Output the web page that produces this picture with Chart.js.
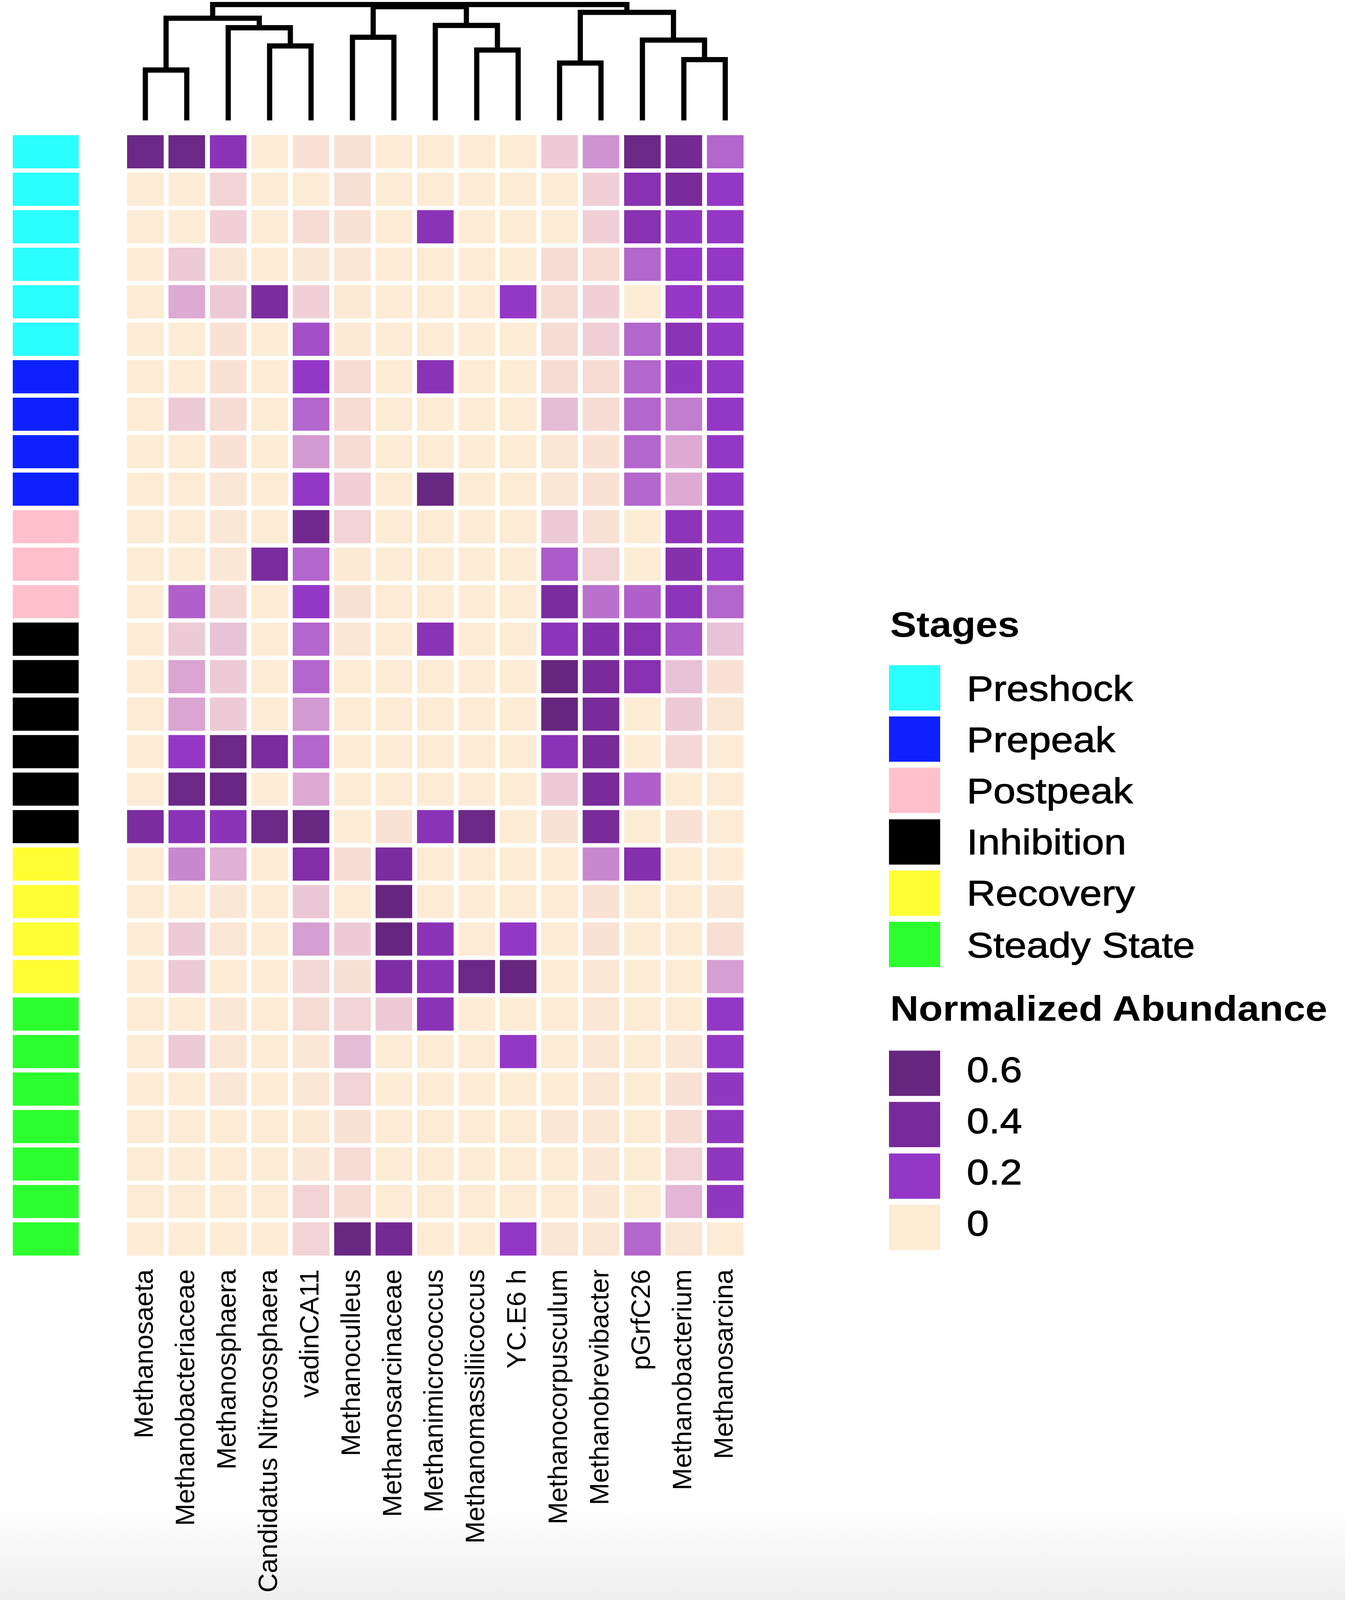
<!DOCTYPE html>
<html>
<head>
<meta charset="utf-8">
<script src="https://cdn.jsdelivr.net/npm/chart.js@4.4.1/dist/chart.umd.min.js"></script>
<style>
html,body{margin:0;padding:0;overflow:hidden;}
body{position:relative;font-family:"Liberation Sans",Arial,sans-serif;color:#000;background:#fff;}
canvas{position:absolute;left:0;top:0;}
#legend{position:absolute;left:0;top:0;width:3442px;height:4558px;transform-origin:0 0;}
.lg-title{position:absolute;left:2278px;font-weight:bold;font-size:101px;line-height:1;white-space:nowrap;}
.lg-sw{position:absolute;left:2275px;width:131px;height:129px;}
.lg-txt{position:absolute;left:2474px;font-size:102px;line-height:1;white-space:nowrap;-webkit-text-stroke:1.5px #000;}
</style>
</head>
<body>
<canvas id="stageChart"></canvas>
<canvas id="heatChart"></canvas>
<canvas id="dendroChart"></canvas>
<div id="legend"></div>
<script>
// ---------------- DATA ----------------
const genera = ["Methanosaeta","Methanobacteriaceae","Methanosphaera","Candidatus Nitrososphaera",
  "vadinCA11","Methanoculleus","Methanosarcinaceae","Methanimicrococcus","Methanomassiliicoccus",
  "YC.E6 h","Methanocorpusculum","Methanobrevibacter","pGrfC26","Methanobacterium","Methanosarcina"];

const stageNames = ["Preshock","Prepeak","Postpeak","Inhibition","Recovery","Steady State"];

const rowStages = [
  "Preshock","Preshock","Preshock","Preshock","Preshock","Preshock",
  "Prepeak","Prepeak","Prepeak","Prepeak",
  "Postpeak","Postpeak","Postpeak",
  "Inhibition","Inhibition","Inhibition","Inhibition","Inhibition","Inhibition",
  "Recovery","Recovery","Recovery","Recovery",
  "Steady State","Steady State","Steady State","Steady State","Steady State","Steady State","Steady State"];

// normalized abundance, one row per sample (top to bottom), columns follow genera
const abundance = [
  [0.55,0.55,0.30,0,   0.02, 0.02, 0,   0,   0,   0,   0.05,0.10, 0.55,0.48,0.14],
  [0,   0,   0.04,0,   0,    0.025,0,   0,   0,   0,   0,   0.045,0.33,0.45,0.22],
  [0,   0,   0.045,0,  0.03, 0.02, 0,   0.30,0,   0,   0,   0.045,0.33,0.25,0.22],
  [0,   0.05,0.01,0,   0.01, 0.01, 0,   0,   0,   0,   0.03,0.03, 0.14,0.22,0.22],
  [0,   0.08,0.05,0.42,0.045,0.005,0,   0,   0,   0.22,0.03,0.045,0,   0.22,0.22],
  [0,   0,   0.02,0,   0.18, 0.005,0,   0,   0,   0,   0.03,0.045,0.14,0.30,0.22],
  [0,   0,   0.02,0,   0.22, 0.03, 0,   0.30,0,   0,   0.03,0.03, 0.14,0.25,0.22],
  [0,   0.05,0.03,0,   0.14, 0.03, 0,   0,   0,   0,   0.065,0.03,0.14,0.12,0.22],
  [0,   0,   0.02,0,   0.095,0.03, 0,   0,   0,   0,   0.01,0.02, 0.14,0.08,0.22],
  [0,   0,   0.01,0,   0.22, 0.045,0,   0.58,0,   0,   0.01,0.02, 0.14,0.08,0.22],
  [0,   0,   0.01,0,   0.50, 0.04, 0,   0,   0,   0,   0.05,0.02, 0,   0.28,0.22],
  [0,   0,   0.01,0.42,0.14, 0.005,0,   0,   0,   0,   0.16,0.04, 0,   0.35,0.22],
  [0,   0.15,0.035,0,  0.22, 0.02, 0,   0,   0,   0,   0.42,0.13, 0.15,0.28,0.14],
  [0,   0.05,0.06,0,   0.14, 0.01, 0,   0.30,0,   0,   0.28,0.36, 0.33,0.18,0.06],
  [0,   0.085,0.05,0,  0.14, 0,    0,   0,   0,   0,   0.60,0.45, 0.33,0.06,0.02],
  [0,   0.085,0.05,0,  0.095,0,    0,   0,   0,   0,   0.60,0.45, 0,   0.05,0.01],
  [0,   0.22,0.55,0.42,0.14, 0,    0,   0,   0,   0,   0.30,0.45, 0,   0.035,0],
  [0,   0.55,0.58,0,   0.08, 0,    0,   0,   0,   0,   0.05,0.45, 0.15,0,   0],
  [0.42,0.30,0.30,0.55,0.58, 0,    0.02,0.30,0.55,0,   0.02,0.45, 0,   0.02,0],
  [0,   0.11,0.075,0,  0.38, 0.03, 0.42,0,   0,   0,   0,   0.11, 0.35,0,   0],
  [0,   0,   0.01,0,   0.055,0,    0.60,0,   0,   0,   0,   0.02, 0,   0,   0.01],
  [0,   0.05,0.01,0,   0.09, 0.05, 0.60,0.30,0,   0.22,0,   0.02, 0,   0,   0.025],
  [0,   0.05,0,   0,   0.035,0.025,0.40,0.30,0.55,0.60,0,   0.01, 0,   0,   0.09],
  [0,   0,   0.01,0,   0.03, 0.04, 0.05,0.30,0,   0,   0,   0.01, 0,   0,   0.22],
  [0,   0.05,0.01,0,   0.01, 0.065,0,   0,   0,   0.22,0,   0.01, 0,   0.01,0.22],
  [0,   0,   0.01,0,   0.01, 0.04, 0,   0,   0,   0,   0,   0.01, 0,   0.02,0.25],
  [0,   0,   0,   0,   0.005,0.02, 0,   0,   0,   0,   0.01,0.01, 0,   0.03,0.25],
  [0,   0,   0,   0,   0.01, 0.03, 0,   0,   0,   0,   0,   0.01, 0,   0.04,0.25],
  [0,   0,   0,   0,   0.04, 0.03, 0,   0,   0,   0,   0,   0.01, 0,   0.07,0.25],
  [0,   0,   0,   0,   0.04, 0.58, 0.48,0,   0,   0.22,0.01,0.01, 0.14,0.01,0]
];

const legendBreaks = [0.6, 0.4, 0.2, 0];

// column dendrogram, hclust style: negative = leaf (1-based column), positive = earlier merge
const dendroMerge = [
  [-1,-2],[-4,-5],[-3,2],[1,3],[-6,-7],[-9,-10],[-8,6],
  [-11,-12],[-14,-15],[-13,9],[8,10],[5,7],[4,11],[13,12]
];
const dendroHeight = [435,643,800,882,718,607,820,495,525,693,933,982,1000,1000];

// ---------------- STYLE ----------------
const stageColors = {"Preshock":"#2afefe","Prepeak":"#0d21ff","Postpeak":"#ffc0cb",
  "Inhibition":"#000000","Recovery":"#ffff33","Steady State":"#2bff2e"};
const colorStops = [
  [0,"#fdecd5"],[0.015,"#fae5d5"],[0.03,"#f6dcd5"],[0.045,"#f0d0d6"],[0.06,"#e8c2d6"],
  [0.08,"#ddaad4"],[0.11,"#c888cf"],[0.14,"#b366cc"],[0.18,"#a24fc8"],[0.22,"#9437c6"],
  [0.3,"#8b33b7"],[0.4,"#7e2da3"],[0.5,"#71298f"],[0.6,"#66267f"]];
function hex2rgb(h){return [parseInt(h.slice(1,3),16),parseInt(h.slice(3,5),16),parseInt(h.slice(5,7),16)];}
function fillColor(v){
  if (v <= colorStops[0][0]) return colorStops[0][1];
  for (let i=1;i<colorStops.length;i++){
    if (v <= colorStops[i][0]){
      const [v0,c0]=colorStops[i-1],[v1,c1]=colorStops[i];
      const t=(v-v0)/(v1-v0), a=hex2rgb(c0), b=hex2rgb(c1);
      return "rgb("+a.map((x,k)=>Math.round(x+(b[k]-x)*t)).join(",")+")";
    }
  }
  return colorStops[colorStops.length-1][1];
}
const legendSwatch = {0.6:"#66267f",0.4:"#772b9b",0.2:"#9437c6",0:"#fdebd3"};

// ---------------- LAYOUT (reference 3442x4558, scaled to the viewport) ----------------
const W0=3442, H0=4558;
const VW = window.innerWidth || W0, VH = window.innerHeight || H0;
const sx = VW/W0, sy = VH/H0;
const heatLeft=319*sx, heatRight=1909*sx, heatTop=379*sy, heatBottom=3583*sy;
const FONT='"Liberation Sans", Arial, sans-serif';
document.body.style.width = VW+'px';
document.body.style.height = VH+'px';
document.body.style.background = 'linear-gradient(to bottom,#ffffff 0px,#ffffff '+(4290*sy)+'px,#eeeeee '+VH+'px)';
['stageChart','heatChart','dendroChart'].forEach(id=>{
  const c=document.getElementById(id); c.width=VW; c.height=VH;
  c.style.width=VW+'px'; c.style.height=VH+'px';
});
const cellBorder = {left:6.5*sx, right:6.5*sx, top:6.5*sy, bottom:6.5*sy};

const common = {responsive:false, animation:false, devicePixelRatio:1, events:[],
  plugins:{legend:{display:false}, tooltip:{enabled:false}}};

// ---------------- STAGE ANNOTATION ----------------
new Chart(document.getElementById('stageChart'), {
  type:'bar',
  data:{labels:['Stages'], datasets: rowStages.map((s)=>({
    label:s, data:[1], backgroundColor:stageColors[s], borderColor:'#ffffff',
    borderWidth:cellBorder, borderSkipped:false, categoryPercentage:1, barPercentage:1}))},
  options:Object.assign({}, common, {
    layout:{padding:{left:26.5*sx, right:VW-207.5*sx, top:heatTop, bottom:VH-heatBottom}},
    scales:{
      x:{stacked:true, display:false},
      y:{type:'linear', stacked:true, min:0, max:rowStages.length, reverse:true, display:false}
    }})
});

// ---------------- HEATMAP ----------------
new Chart(document.getElementById('heatChart'), {
  type:'bar',
  data:{labels:genera, datasets: abundance.map((row,r)=>({
    label:'Sample '+(r+1), data:row.map(()=>1),
    backgroundColor:row.map(v=>fillColor(v)), borderColor:'#ffffff',
    borderWidth:cellBorder, borderSkipped:false, categoryPercentage:1, barPercentage:1}))},
  options:Object.assign({}, common, {
    layout:{padding:{left:heatLeft, right:VW-heatRight, top:heatTop, bottom:0}},
    scales:{
      x:{type:'category', stacked:true,
        grid:{display:false, drawTicks:false}, border:{display:false},
        ticks:{autoSkip:false, minRotation:90, maxRotation:90, padding:33*sy, color:'#000',
          font:{family:FONT, size:76*sy}},
        afterFit:(s)=>{ s.height = VH-heatBottom; }},
      y:{type:'linear', stacked:true, min:0, max:abundance.length, reverse:true, display:false}
    }})
});

// ---------------- DENDROGRAM ----------------
(function(){
  const nodeX = [], segs = [];
  function pos(id){ return id<0 ? {x:-id-1, h:0} : nodeX[id-1]; }
  dendroMerge.forEach((m,k)=>{
    const a=pos(m[0]), b=pos(m[1]), h=dendroHeight[k];
    segs.push({data:[{x:a.x,y:a.h},{x:a.x,y:h},{x:b.x,y:h},{x:b.x,y:b.h}],
      showLine:true, borderColor:'#000', borderWidth:14*(sx+sy)/2, pointRadius:0, fill:false,
      clip:false, borderJoinStyle:'miter', borderCapStyle:'butt', tension:0});
    nodeX.push({x:(a.x+b.x)/2, h:h});
  });
  new Chart(document.getElementById('dendroChart'), {
    type:'scatter',
    data:{datasets:segs},
    options:Object.assign({}, common, {
      layout:{padding:{left:heatLeft, right:VW-heatRight, top:13*sy, bottom:VH-343*sy}},
      scales:{
        x:{type:'linear', min:-0.5, max:genera.length-0.5, display:false},
        y:{type:'linear', min:0, max:1000, display:false}
      }})
  });
})();

// ---------------- LEGEND ----------------
(function(){
  const lg = document.getElementById('legend');
  lg.style.transform = 'scale('+sx+','+sy+')';
  function add(cls, css, text){
    const d=document.createElement('div'); d.className=cls; Object.assign(d.style, css);
    if (text!==undefined) d.textContent=text; lg.appendChild(d);
  }
  add('lg-title',{top:'1729px'},'Stages');
  stageNames.forEach((s,i)=>{
    const top = 1895 + i*146.2;
    add('lg-sw',{top:top+'px', background:stageColors[s]});
    add('lg-txt',{top:(top+64.5-50)+'px'}, s);
  });
  add('lg-title',{top:'2823px'},'Normalized Abundance');
  legendBreaks.forEach((v,i)=>{
    const top = 2993 + i*146.3;
    add('lg-sw',{top:top+'px', background:legendSwatch[v]});
    add('lg-txt',{top:(top+64.5-50-12)+'px'}, String(v));
  });
})();
</script>
</body>
</html>
